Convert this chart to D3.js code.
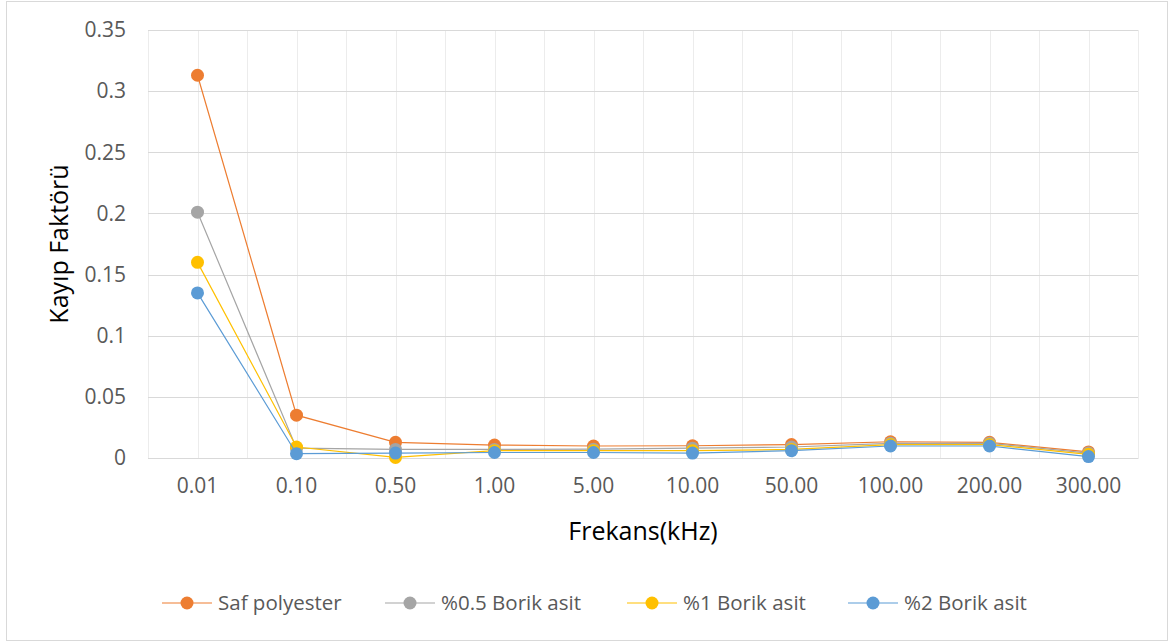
<!DOCTYPE html>
<html>
<head>
<meta charset="utf-8">
<script src="https://cdn.jsdelivr.net/npm/d3@7"></script>
<style>
  body { margin: 0; background: #fff; }
  svg { display: block; font-family: "Open Sans", sans-serif; }
</style>
</head>
<body>
<div id="chart"></div>
<script>
'use strict';
// categories (kHz)
const frequencies = ["0.01", "0.10", "0.50", "1.00", "5.00", "10.00", "50.00", "100.00", "200.00", "300.00"];
const yTicks = [0, 0.05, 0.1, 0.15, 0.2, 0.25, 0.3, 0.35];

const safPolyester = [0.313, 0.035, 0.0128, 0.0106, 0.0098, 0.0100, 0.0110, 0.0133, 0.0128, 0.0050];
const borik05 = [0.201, 0.0080, 0.0070, 0.0070, 0.0072, 0.0080, 0.0090, 0.0120, 0.0120, 0.0040];
const borik1 = [0.160, 0.0090, 0.0005, 0.0060, 0.0060, 0.0060, 0.0070, 0.0110, 0.0110, 0.0030];
const borik2 = [0.135, 0.0035, 0.0040, 0.0045, 0.0045, 0.0040, 0.0060, 0.0098, 0.0098, 0.0012];

const seriesNames = ["Saf polyester", "%0.5 Borik asit", "%1 Borik asit", "%2 Borik asit"];
const seriesColors = ["#ED7D31", "#A5A5A5", "#FFC000", "#5B9BD5"];
const seriesValues = [safPolyester, borik05, borik1, borik2];

let width = 1172, height = 643;
let plot = { left: 148, right: 1138, top: 30, bottom: 458 };

let svg = d3.select("#chart").append("svg")
  .attr("width", width)
  .attr("height", height);

// chart frame
svg.append("rect")
  .attr("x", 6.5).attr("y", 1.5)
  .attr("width", 1161).attr("height", 639)
  .attr("fill", "#fff")
  .attr("stroke", "#d9d9d9")
  .attr("stroke-width", 1);

let x = d3.scaleBand()
  .domain(frequencies)
  .range([plot.left, plot.right]);
let y = d3.scaleLinear()
  .domain([0, 0.35])
  .range([plot.bottom, plot.top]);

// vertical grid: category edges and centers
let vLines = [];
frequencies.forEach(function (f) {
  vLines.push(x(f));
  vLines.push(x(f) + x.bandwidth() / 2);
});
vLines.push(plot.right);
svg.append("g").selectAll("line")
  .data(vLines)
  .enter().append("line")
  .attr("x1", d => Math.round(d) + 0.5)
  .attr("x2", d => Math.round(d) + 0.5)
  .attr("y1", plot.top)
  .attr("y2", plot.bottom)
  .attr("stroke", "#ececec")
  .attr("stroke-width", 1);

// horizontal grid
svg.append("g").selectAll("line")
  .data(yTicks)
  .enter().append("line")
  .attr("x1", plot.left)
  .attr("x2", plot.right)
  .attr("y1", d => Math.round(y(d)) + 0.5)
  .attr("y2", d => Math.round(y(d)) + 0.5)
  .attr("stroke", "#d9d9d9")
  .attr("stroke-width", 1);

// y axis labels
let yAxis = d3.axisLeft(y).tickValues(yTicks).tickSize(0).tickPadding(22)
  .tickFormat(d => d3.format("")(+d.toFixed(2)));
let yG = svg.append("g")
  .attr("transform", "translate(" + plot.left + ",0)")
  .call(yAxis);
yG.select(".domain").remove();
yG.selectAll("text")
  .attr("font-size", "21px")
  .attr("font-family", "Open Sans, sans-serif")
  .attr("fill", "#595959");

// x axis labels
let xAxis = d3.axisBottom(x).tickSize(0).tickPadding(20);
let xG = svg.append("g")
  .attr("transform", "translate(0," + plot.bottom + ")")
  .call(xAxis);
xG.select(".domain").attr("stroke", "#d9d9d9");
xG.selectAll("text")
  .attr("font-size", "21px")
  .attr("font-family", "Open Sans, sans-serif")
  .attr("fill", "#595959");

// axis titles
svg.append("text")
  .attr("transform", "translate(68," + ((plot.top + plot.bottom) / 2) + ") rotate(-90)")
  .attr("text-anchor", "middle")
  .attr("font-size", "25px")
  .attr("fill", "#000")
  .text("Kayıp Faktörü");
svg.append("text")
  .attr("x", 643)
  .attr("y", 540)
  .attr("text-anchor", "middle")
  .attr("font-size", "25px")
  .attr("fill", "#000")
  .text("Frekans(kHz)");

// series
let line = d3.line()
  .x((d, i) => x(frequencies[i]) + x.bandwidth() / 2)
  .y(d => y(d));

seriesValues.forEach(function (vals, s) {
  let g = svg.append("g");
  g.append("path")
    .attr("d", line(vals))
    .attr("fill", "none")
    .attr("stroke", seriesColors[s])
    .attr("stroke-width", 1.2);
  g.selectAll("circle")
    .data(vals)
    .enter().append("circle")
    .attr("cx", (d, i) => x(frequencies[i]) + x.bandwidth() / 2)
    .attr("cy", d => y(d))
    .attr("r", 6.5)
    .attr("fill", seriesColors[s]);
});

// legend
let legendX = [162, 385, 627, 848];
let legendY = 603;
seriesNames.forEach(function (name, s) {
  let lg = svg.append("g").attr("transform", "translate(" + legendX[s] + "," + legendY + ")");
  lg.append("line")
    .attr("x1", 0).attr("x2", 50)
    .attr("y1", 0).attr("y2", 0)
    .attr("stroke", seriesColors[s])
    .attr("stroke-width", 1.2);
  lg.append("circle")
    .attr("cx", 25).attr("cy", 0).attr("r", 6.5)
    .attr("fill", seriesColors[s]);
  lg.append("text")
    .attr("x", 56).attr("y", 0)
    .attr("dy", "0.35em")
    .attr("font-size", "20.5px")
    .attr("fill", "#595959")
    .text(name);
});
</script>
</body>
</html>
